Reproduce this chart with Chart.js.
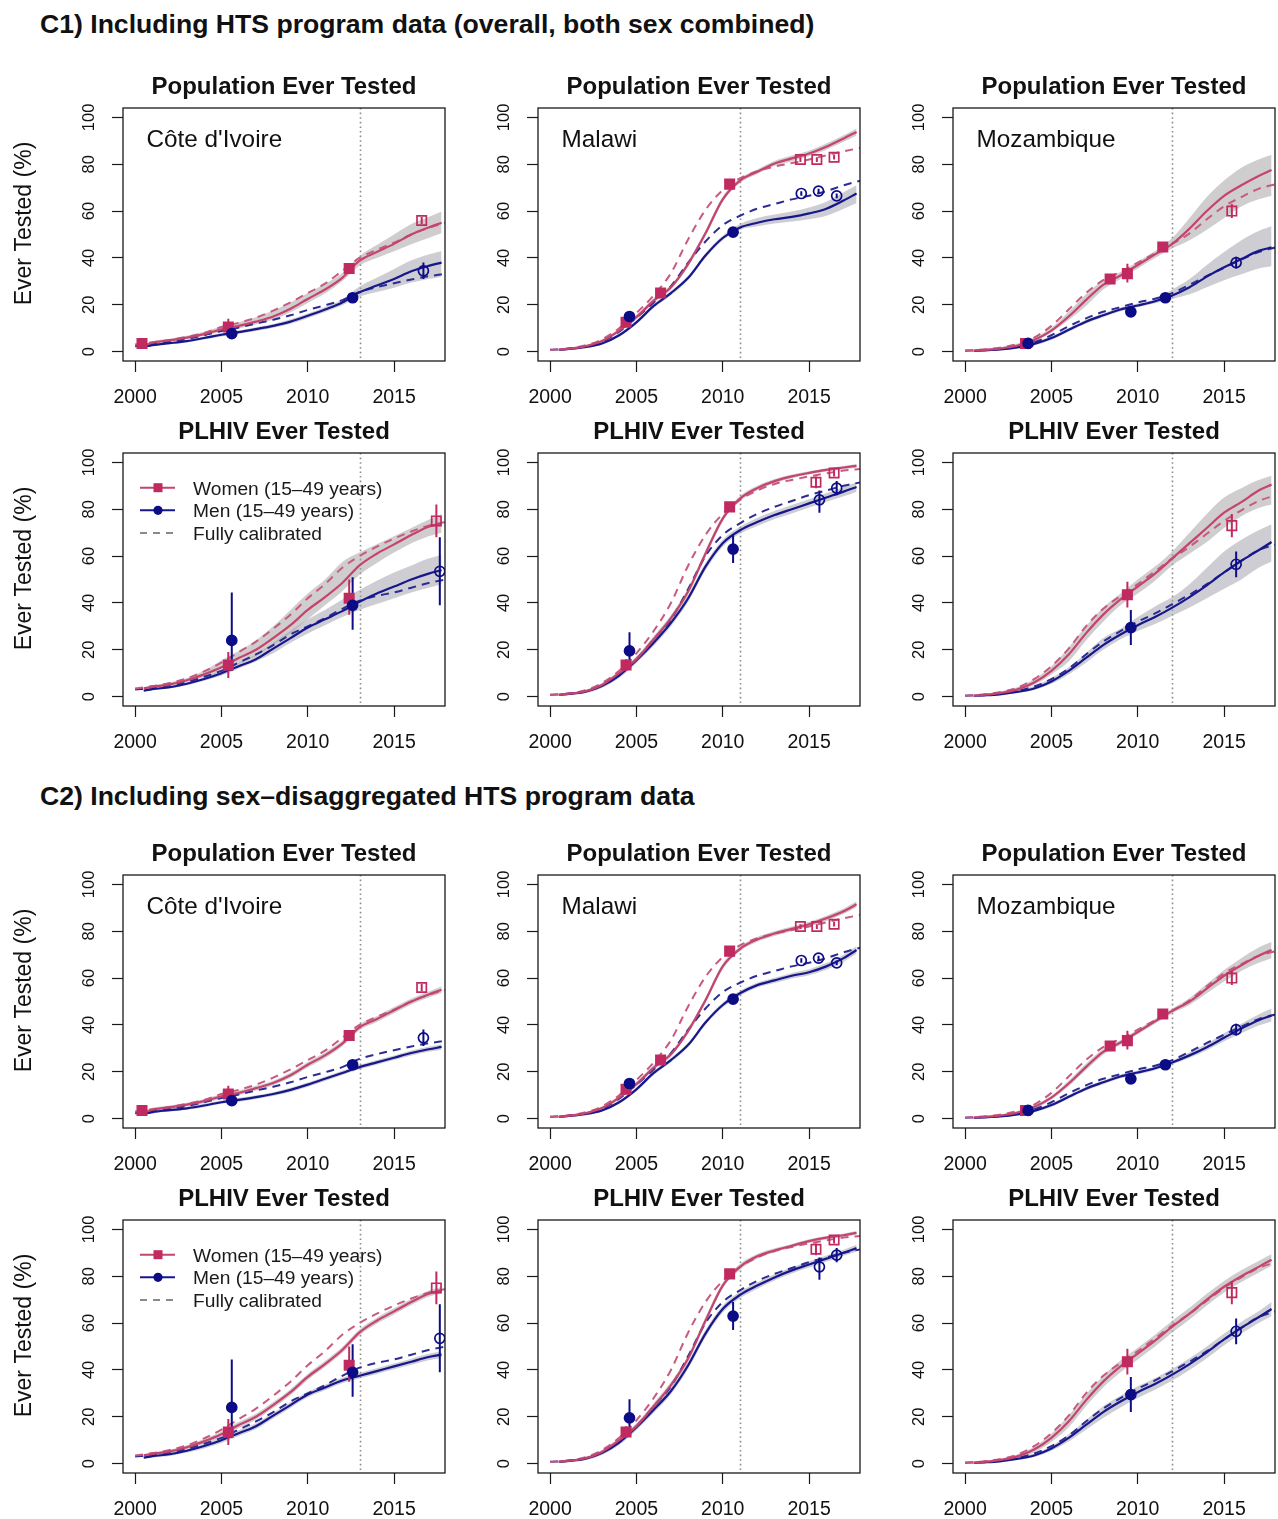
<!DOCTYPE html>
<html><head><meta charset="utf-8">
<script src="https://cdn.jsdelivr.net/npm/chart.js@4.4.1/dist/chart.umd.min.js"></script>
<style>
html,body{margin:0;padding:0;background:#fff}
body{width:1278px;height:1519px;overflow:hidden;position:relative;font-family:"Liberation Sans",Arial,Helvetica,sans-serif}
.main{position:absolute;left:40px;font-weight:bold;font-size:26.6px;line-height:26px;color:#111;white-space:nowrap}
canvas{position:absolute}
</style></head><body>
<div class="main" style="top:11px">C1) Including HTS program data (overall, both sex combined)</div>
<div class="main" style="top:783px">C2) Including sex–disaggregated HTS program data</div>
<script>
// ---------- axes / labels ----------
const X_TICKS = [2000, 2005, 2010, 2015];
const Y_TICKS = [0, 20, 40, 60, 80, 100];
const COUNTRIES = ["Côte d'Ivoire", "Malawi", "Mozambique"];
const VLINES = [2013, 2011, 2012];
const TITLE_POP = "Population Ever Tested";
const TITLE_PLHIV = "PLHIV Ever Tested";
const Y_TITLE = "Ever Tested (%)";
const LEGEND_LABELS = ["Women (15–49 years)", "Men (15–49 years)", "Fully calibrated"];

// ---------- x values ----------
const YEARS_MID = [2001,2002,2003,2004,2005,2006,2007,2008,2009,2010,2011,2012,2013,2014,2015,2016,2017];
const X_SOLID = [2000.5].concat(YEARS_MID, [2017.75]);
const X_FULL = [2000].concat(YEARS_MID, [2018]);

// ---------- fully calibrated (dashed) ----------
const CIV_POP_W_FULL = [3, 4, 5, 6.3, 8, 10.5, 12.3, 14.5, 17.5, 21, 25, 29, 34.5, 40, 43.5, 46.5, 50, 52.8, 55];
const CIV_POP_M_FULL = [2.3, 3.2, 4.2, 5.4, 7, 8.8, 10.3, 12, 13.6, 15.5, 17.8, 19.8, 22, 25.5, 27.5, 29.2, 30.8, 32.2, 33.2];
const MWI_POP_W_FULL = [0.8, 1.3, 2.6, 5.2, 10, 16.5, 24, 33.5, 48, 60.5, 69, 74, 77, 79, 80.5, 82, 83.8, 85.5, 87];
const MWI_POP_M_FULL = [0.8, 1.2, 2.2, 4.2, 8.5, 14.5, 21, 28, 38, 47, 54, 58, 61, 63, 65, 66.5, 68.5, 71, 73];
const MOZ_POP_W_FULL = [0.5, 0.9, 1.7, 3.2, 6, 11, 18, 25, 30.5, 34, 38, 42, 46, 50.5, 56.5, 62, 66, 69.5, 71.5];
const MOZ_POP_M_FULL = [0.4, 0.6, 1.1, 2.2, 4, 7, 10.8, 14.2, 17, 19, 21, 22.6, 25, 28.5, 32.3, 35.8, 39.3, 42.5, 44.5];
const CIV_PLHIV_W_FULL = [3.5, 4.5, 5.8, 7.8, 10.8, 14.5, 19, 23.5, 29, 35, 42, 48, 55, 60, 64, 67.5, 70.5, 73, 74.5];
const CIV_PLHIV_M_FULL = [3, 3.7, 4.7, 6.3, 8.5, 11, 14.5, 18, 22, 26.5, 30, 33.5, 37.5, 41, 43, 44.5, 46.5, 48.5, 50];
const MWI_PLHIV_W_FULL = [0.8, 1.3, 2.6, 5.8, 11, 18.5, 28, 40, 56, 69, 78, 84, 88, 90.8, 92.5, 94, 95.3, 96.5, 97.2];
const MWI_PLHIV_M_FULL = [0.8, 1.2, 2.3, 5, 9.5, 16, 24.5, 33, 46, 60, 69, 74, 78, 81, 83.5, 86, 88, 90, 91.5];
const MOZ_PLHIV_W_FULL = [0.5, 0.9, 1.9, 3.8, 7.5, 13, 20.5, 30, 37.5, 43, 48, 53.5, 59, 64, 69.5, 75, 79.5, 83.5, 86];
const MOZ_PLHIV_M_FULL = [0.4, 0.6, 1.2, 2.4, 4.3, 7.5, 12, 18, 23.5, 28, 32, 35.5, 39.5, 43.5, 48, 53, 58, 62.5, 65];

// ---------- C1 model (solid) ----------
const C1_CIV_POP_W = [2.5, 3.8, 4.8, 6, 7.5, 9.5, 11, 12.8, 15, 18.3, 22.5, 26.5, 31.5, 38.8, 42.5, 46, 50, 53, 55];
const C1_CIV_POP_M = [2, 2.8, 3.6, 4.5, 5.8, 7.2, 8.3, 9.6, 11, 12.8, 15.3, 18, 21, 25.3, 28.2, 31, 34.3, 36.6, 38];
const C1_MWI_POP_W = [0.8, 1.2, 2.2, 4.5, 9, 14.7, 21.8, 27.5, 37.5, 50.5, 65, 73, 76.8, 80.3, 82.5, 84.6, 87.5, 91, 93.8];
const C1_MWI_POP_M = [0.8, 1.1, 1.9, 3.5, 7, 12.5, 19.5, 25, 31.5, 41, 48.5, 53, 55, 56.5, 57.5, 59, 61, 64.5, 67.5];
const C1_MOZ_POP_W = [0.4, 0.7, 1.3, 2.5, 5, 9, 15, 22, 28.5, 32.5, 37, 41.5, 46, 52.5, 60, 66.5, 71, 75, 77.5];
const C1_MOZ_POP_M = [0.3, 0.5, 0.9, 1.8, 3.3, 5.8, 9.3, 12.8, 15.5, 18, 19.7, 21.5, 24, 27.5, 32, 36, 39.5, 43, 44.5];
const C1_CIV_PLHIV_W = [3.5, 4.2, 5.2, 7, 9.5, 12.5, 16.5, 20, 25, 30.5, 37, 42.5, 48.5, 56, 61, 65, 69, 72.5, 74];
const C1_CIV_PLHIV_M = [2.5, 3.2, 4, 5.5, 7.5, 10, 13, 16, 20.5, 25, 29.5, 33, 36.5, 40.5, 44, 47, 50, 52.5, 54];
const C1_MWI_PLHIV_W = [0.8, 1.2, 2.2, 5, 10, 16, 24.5, 33.5, 45, 61, 76, 84.5, 89, 92, 94, 95.5, 96.8, 97.8, 98.5];
const C1_MWI_PLHIV_M = [0.8, 1.1, 2, 4.5, 9, 15.5, 23, 31.5, 42, 55.5, 65.5, 71, 74.5, 77.5, 80, 82.5, 85, 87.5, 89.5];
const C1_MOZ_PLHIV_W = [0.4, 0.7, 1.5, 3, 6, 11, 18, 27, 35, 41.5, 47, 52.5, 59, 65.5, 72, 78.5, 83, 88, 90.5];
const C1_MOZ_PLHIV_M = [0.3, 0.5, 1, 2, 3.5, 6.5, 11, 16.5, 22, 26.5, 30.5, 34, 38, 42.5, 47.5, 53, 58, 62.5, 66];

// ---------- C2 model (solid) ----------
const C2_CIV_POP_W = [2.5, 3.8, 4.8, 6, 7.5, 9.5, 11, 13, 15.2, 18.5, 23, 27, 32, 39, 42.5, 46.3, 50, 53, 55];
const C2_CIV_POP_M = [2, 2.8, 3.6, 4.4, 5.6, 7, 8, 9.2, 10.5, 12.3, 14.5, 17, 19.5, 22, 24, 26, 28, 29.6, 30.6];
const C2_MWI_POP_W = [0.8, 1.2, 2.2, 4.5, 9, 14.7, 21.8, 27.5, 37.5, 50.5, 65, 72.5, 76.5, 79, 81, 83, 85.5, 88.5, 91.5];
const C2_MWI_POP_M = [0.8, 1.1, 1.9, 3.5, 7, 12.5, 19.5, 25, 31.5, 41, 48.5, 53.5, 57, 59, 61, 62.5, 65, 68.5, 72];
const C2_MOZ_POP_W = [0.4, 0.7, 1.3, 2.5, 5, 9, 15, 22, 28.5, 32.5, 37, 41.5, 46, 50, 55.5, 61, 65.5, 69.5, 72];
const C2_MOZ_POP_M = [0.3, 0.5, 0.9, 1.8, 3.3, 5.8, 9.3, 12.8, 15.5, 18, 19.7, 21.5, 24, 27, 30.5, 34.5, 38.5, 42, 44];
const C2_CIV_PLHIV_W = [3.5, 4.2, 5.2, 7, 9.5, 12.5, 16.5, 20, 25, 30.5, 37, 42.5, 48.5, 56, 61, 65, 69, 72.5, 74];
const C2_CIV_PLHIV_M = [2.5, 3.2, 4, 5.5, 7.5, 10, 13, 16, 20.5, 25, 29.5, 32.5, 35.5, 37.5, 39.5, 41.5, 43.5, 45.5, 46.5];
const C2_MWI_PLHIV_W = [0.8, 1.2, 2.2, 5, 10, 16, 24.5, 33.5, 45, 61, 76, 84, 88.5, 91, 93, 95, 96.5, 97.5, 98.5];
const C2_MWI_PLHIV_M = [0.8, 1.1, 2, 4.5, 9, 15.5, 23, 31, 42, 55.5, 66, 72, 76, 79.5, 82.5, 85, 87.5, 90, 92];
const C2_MOZ_PLHIV_W = [0.4, 0.7, 1.5, 3, 6, 11, 18, 27, 35, 41.5, 47, 52.5, 58.5, 64, 70, 75.5, 80, 84, 87];
const C2_MOZ_PLHIV_M = [0.3, 0.5, 1, 2, 3.5, 6.5, 11, 16.5, 22, 26.5, 30.5, 34, 38, 42.5, 47.5, 53, 58, 62.5, 66];

// ---------- C1 uncertainty bands ----------
const C1_CIV_POP_W_LO = [2, 3.2, 4.2, 5.3, 6.8, 8.5, 9.9, 11.6, 13.7, 16.8, 20.8, 24.8, 30, 36.8, 40, 42.8, 45.8, 48.5, 50.5];
const C1_CIV_POP_W_HI = [3, 4.4, 5.5, 6.8, 8.5, 10.7, 12.5, 14.7, 17.6, 21, 25, 29, 33.5, 40.8, 45.5, 50, 54.5, 57.5, 59.8];
const C1_CIV_POP_M_LO = [1.6, 2.3, 3.1, 4, 5.2, 6.5, 7.6, 8.8, 10.2, 11.9, 14.3, 16.9, 19.8, 23.5, 25.5, 27.3, 29.5, 31, 32];
const C1_CIV_POP_M_HI = [2.4, 3.3, 4.1, 5, 6.4, 7.9, 9, 10.4, 11.8, 13.8, 16.3, 19.1, 22.3, 27.8, 31.5, 35.3, 39, 41.5, 43];
const C1_MWI_POP_W_LO = [0.5, 0.8, 1.7, 3.8, 8.2, 13.8, 20.8, 26.5, 36.3, 49.3, 63.8, 72, 75.8, 79.2, 81.3, 83.4, 86.2, 89.6, 92.3];
const C1_MWI_POP_W_HI = [1.1, 1.6, 2.7, 5.2, 9.8, 15.6, 22.8, 28.5, 38.7, 51.7, 66.2, 74, 77.8, 81.4, 83.7, 85.8, 88.8, 92.4, 95.3];
const C1_MWI_POP_M_LO = [0.5, 0.7, 1.4, 2.9, 6.3, 11.7, 18.6, 24.1, 30.6, 40, 47.5, 52, 53.5, 54.7, 55.5, 56.5, 58, 61, 63.5];
const C1_MWI_POP_M_HI = [1.1, 1.5, 2.4, 4.1, 7.7, 13.3, 20.4, 25.9, 32.4, 42, 49.5, 54.5, 57, 58.5, 59.8, 61.5, 64, 68, 71];
const C1_MOZ_POP_W_LO = [0.1, 0.3, 0.8, 1.8, 4.2, 8.2, 13.5, 19.5, 26.5, 31, 35.5, 40, 44, 47.5, 52, 57, 62, 65, 66.5];
const C1_MOZ_POP_W_HI = [0.7, 1.1, 1.9, 3.4, 6, 10.2, 17, 24.5, 30.5, 34, 38.5, 43, 48.5, 57, 66, 73, 78.5, 82, 84];
const C1_MOZ_POP_M_LO = [0.1, 0.2, 0.5, 1.2, 2.6, 5, 8.5, 12, 14.7, 17.2, 18.9, 20.7, 22.5, 24.5, 27.5, 30.5, 33, 35.5, 36.5];
const C1_MOZ_POP_M_HI = [0.5, 0.8, 1.3, 2.4, 4, 6.6, 10.1, 13.6, 16.3, 18.8, 20.5, 22.5, 26.5, 31, 37, 42.5, 47.5, 51.5, 53.5];
const C1_CIV_PLHIV_W_LO = [3, 3.7, 4.6, 6.2, 8.4, 10.5, 14, 17.5, 22, 27, 33, 39, 45, 52, 57, 61.5, 65.5, 68.5, 70];
const C1_CIV_PLHIV_W_HI = [4, 4.8, 6, 8, 11, 15.5, 19.5, 24, 30, 37, 44, 50, 57.5, 61.5, 65, 68.5, 72, 75.5, 78];
const C1_CIV_PLHIV_M_LO = [2.1, 2.8, 3.5, 4.9, 6.8, 9, 12, 15, 18.5, 23, 27, 30.5, 34, 37, 39.5, 42, 44.5, 46.5, 48];
const C1_CIV_PLHIV_M_HI = [2.9, 3.6, 4.5, 6.1, 8.3, 11, 14.5, 18, 23, 28, 33, 37, 41.5, 45.5, 49.5, 53, 56, 59, 60.5];
const C1_MWI_PLHIV_W_LO = [0.5, 0.8, 1.6, 4.2, 9, 14.8, 23.2, 32.2, 43.6, 59.5, 74.8, 83.4, 88, 91.1, 93.2, 94.8, 96.1, 97.1, 97.7];
const C1_MWI_PLHIV_W_HI = [1.1, 1.6, 2.8, 5.8, 11, 17.2, 25.8, 34.8, 46.4, 62.5, 77.2, 85.6, 90, 92.9, 94.8, 96.2, 97.5, 98.5, 99.3];
const C1_MWI_PLHIV_M_LO = [0.5, 0.7, 1.4, 3.7, 8, 14.3, 21.6, 30, 40.5, 54, 64, 69.5, 72.8, 75.8, 78.2, 80.7, 83.2, 85.5, 87.5];
const C1_MWI_PLHIV_M_HI = [1.1, 1.5, 2.6, 5.3, 10, 16.7, 24.4, 33, 43.5, 57, 67, 72.5, 76.2, 79.2, 81.8, 84.3, 86.8, 89.5, 91.5];
const C1_MOZ_PLHIV_W_LO = [0.2, 0.4, 1, 2.2, 5, 9.5, 15, 24, 32, 39, 44, 49.5, 56, 61, 66, 72, 77, 80.5, 82];
const C1_MOZ_PLHIV_W_HI = [0.7, 1.1, 2.1, 4, 7.5, 13, 21, 30, 38, 44, 50, 55.5, 62, 70, 78, 85, 89, 92.5, 94.3];
const C1_MOZ_PLHIV_M_LO = [0.1, 0.3, 0.7, 1.5, 2.8, 5.5, 9.5, 14.5, 20, 24.5, 28, 31, 34.5, 38, 42, 46, 50, 55, 57.7];
const C1_MOZ_PLHIV_M_HI = [0.5, 0.8, 1.4, 2.6, 4.5, 8, 12.5, 18.5, 25, 29, 34, 38.5, 42.5, 48, 55, 62, 67, 71, 73.6];

// ---------- C2 uncertainty bands ----------
const C2_CIV_POP_W_LO = [1.8, 3, 4, 5.2, 6.6, 8.5, 10, 12, 14.2, 17.4, 21.8, 25.8, 30.8, 37.8, 41.3, 45, 48.7, 51.7, 53.6];
const C2_CIV_POP_W_HI = [3.2, 4.6, 5.6, 6.8, 8.4, 10.5, 12, 14, 16.2, 19.6, 24.2, 28.2, 33.2, 40.2, 43.7, 47.6, 51.3, 54.3, 56.4];
const C2_CIV_POP_M_LO = [1.5, 2.2, 3, 3.8, 4.9, 6.3, 7.2, 8.4, 9.7, 11.4, 13.6, 16.1, 18.6, 21.1, 23, 25, 26.9, 28.5, 29.4];
const C2_CIV_POP_M_HI = [2.5, 3.4, 4.2, 5, 6.3, 7.7, 8.8, 10, 11.3, 13.2, 15.4, 17.9, 20.4, 22.9, 25, 27, 29.1, 30.7, 31.8];
const C2_MWI_POP_W_LO = [0.5, 0.8, 1.7, 3.8, 8.2, 13.8, 20.8, 26.5, 36.3, 49.3, 63.8, 71.5, 75.5, 78, 80, 82, 84.4, 87.3, 90.2];
const C2_MWI_POP_W_HI = [1.1, 1.6, 2.7, 5.2, 9.8, 15.6, 22.8, 28.5, 38.7, 51.7, 66.2, 73.5, 77.5, 80, 82, 84, 86.6, 89.7, 92.8];
const C2_MWI_POP_M_LO = [0.5, 0.7, 1.4, 2.9, 6.3, 11.7, 18.6, 24.1, 30.6, 40, 47.5, 52.5, 56, 57.9, 59.8, 61.2, 63.6, 67, 70.4];
const C2_MWI_POP_M_HI = [1.1, 1.5, 2.4, 4.1, 7.7, 13.3, 20.4, 25.9, 32.4, 42, 49.5, 54.5, 58, 60.1, 62.2, 63.8, 66.4, 70, 73.6];
const C2_MOZ_POP_W_LO = [0.1, 0.3, 0.8, 1.8, 4.2, 8.2, 13.8, 20.6, 27.3, 31.5, 36, 40.5, 45, 48.5, 53.5, 58.5, 63, 66.5, 68.5];
const C2_MOZ_POP_W_HI = [0.7, 1.1, 1.8, 3.2, 5.8, 9.8, 16.2, 23.4, 29.7, 33.5, 38, 42.5, 47, 51.5, 57.5, 63.5, 68.5, 73, 75.5];
const C2_MOZ_POP_M_LO = [0.1, 0.2, 0.5, 1.2, 2.6, 5, 8.5, 12, 14.7, 17.2, 18.9, 20.7, 23.2, 26, 29.2, 33, 36.5, 39.8, 41.5];
const C2_MOZ_POP_M_HI = [0.5, 0.8, 1.3, 2.4, 4, 6.6, 10.1, 13.6, 16.3, 18.8, 20.5, 22.3, 24.8, 28.3, 32, 36.5, 40.5, 44.5, 47];
const C2_CIV_PLHIV_W_LO = [3, 3.6, 4.5, 6.2, 8.5, 11.3, 15.2, 18.7, 23.7, 29.2, 35.7, 41.2, 47.2, 54.7, 59.7, 63.7, 67.7, 71.2, 72.5];
const C2_CIV_PLHIV_W_HI = [4, 4.8, 5.9, 7.8, 10.5, 13.7, 17.8, 21.3, 26.3, 31.8, 38.3, 43.8, 49.8, 57.3, 62.3, 66.3, 70.3, 73.8, 75.5];
const C2_CIV_PLHIV_M_LO = [2, 2.6, 3.3, 4.7, 6.5, 8.8, 11.8, 14.8, 19.3, 23.8, 28.3, 31.3, 34.3, 36.3, 38.3, 40.3, 42.2, 44.1, 45.1];
const C2_CIV_PLHIV_M_HI = [3, 3.8, 4.7, 6.3, 8.5, 11.2, 14.2, 17.2, 21.7, 26.2, 30.7, 33.7, 36.7, 38.7, 40.7, 42.7, 44.8, 46.9, 47.9];
const C2_MWI_PLHIV_W_LO = [0.5, 0.8, 1.6, 4.2, 9, 14.8, 23.2, 32.2, 43.6, 59.5, 74.8, 82.8, 87.5, 90.1, 92.2, 94.2, 95.8, 96.8, 97.7];
const C2_MWI_PLHIV_W_HI = [1.1, 1.6, 2.8, 5.8, 11, 17.2, 25.8, 34.8, 46.4, 62.5, 77.2, 85.2, 89.5, 91.9, 93.8, 95.8, 97.2, 98.2, 99.3];
const C2_MWI_PLHIV_M_LO = [0.5, 0.7, 1.4, 3.7, 8, 14.3, 21.6, 29.6, 40.5, 54, 64.5, 70.6, 74.7, 78.2, 81.2, 83.7, 86.2, 88.7, 90.6];
const C2_MWI_PLHIV_M_HI = [1.1, 1.5, 2.6, 5.3, 10, 16.7, 24.4, 32.4, 43.5, 57, 67.5, 73.4, 77.3, 80.8, 83.8, 86.3, 88.8, 91.3, 93.4];
const C2_MOZ_PLHIV_W_LO = [0.2, 0.4, 1, 2.2, 4.8, 9.2, 15.5, 24.5, 32.5, 39, 44.5, 50, 56, 61.5, 67.5, 73, 77.5, 81.5, 84.5];
const C2_MOZ_PLHIV_W_HI = [0.7, 1.1, 2.1, 3.9, 7.2, 12.8, 20.5, 29.5, 37.5, 44, 49.5, 55, 61, 66.5, 72.5, 78, 82.5, 86.5, 89.5];
const C2_MOZ_PLHIV_M_LO = [0.1, 0.3, 0.7, 1.5, 2.8, 5.5, 9.5, 14.5, 19.5, 24, 28, 31.5, 35.5, 40, 45, 50.5, 55.5, 60, 63];
const C2_MOZ_PLHIV_M_HI = [0.5, 0.8, 1.4, 2.6, 4.3, 7.5, 12.5, 18.5, 24.5, 29, 33, 36.5, 40.5, 45, 50, 55.5, 60.5, 65, 69];

// ---------- survey / program data: [year, value, lower, upper, filled(1)/open(0)] ----------
const CIV_POP_W_SURVEY = [[2000.4, 3.5, 3, 4, 1], [2005.4, 10.5, 8, 14, 1], [2012.4, 35.5, 33.5, 37.5, 1], [2016.6, 56, 54.5, 57.5, 0]];
const CIV_POP_M_SURVEY = [[2005.6, 7.7, 6.5, 9, 1], [2012.6, 23, 21, 25, 1], [2016.7, 34.5, 31, 38, 0]];
const MWI_POP_W_SURVEY = [[2004.4, 12.5, 11, 14, 1], [2006.4, 25, 24, 26, 1], [2010.4, 71.5, 70.5, 72.5, 1], [2014.5, 82, 81, 83, 0], [2015.45, 82, 81, 83, 0], [2016.45, 83, 82, 84, 0]];
const MWI_POP_M_SURVEY = [[2004.6, 15, 14, 16, 1], [2010.6, 51, 50, 52, 1], [2014.55, 67.5, 66.5, 68.5, 0], [2015.55, 68.5, 67.5, 69.5, 0], [2016.6, 66.5, 65.5, 67.5, 0]];
const MOZ_POP_W_SURVEY = [[2003.5, 3.5, 2.5, 4.5, 1], [2008.4, 31, 29.5, 32.5, 1], [2009.4, 33.3, 29.5, 37.5, 1], [2011.45, 44.7, 43, 46.5, 1], [2015.45, 60, 57, 63, 0]];
const MOZ_POP_M_SURVEY = [[2003.65, 3.5, 2.5, 4.5, 1], [2009.6, 17, 15, 19, 1], [2011.6, 23, 21.5, 24.5, 1], [2015.7, 38, 35.5, 40.5, 0]];
const CIV_PLHIV_W_SURVEY = [[2005.4, 13.5, 8, 19, 1], [2012.4, 42, 35, 50, 1], [2017.45, 75, 68, 82, 0]];
const CIV_PLHIV_M_SURVEY = [[2005.6, 24, 11, 44.5, 1], [2012.6, 39, 28.5, 51, 1], [2017.65, 53.5, 39, 68, 0]];
const MWI_PLHIV_W_SURVEY = [[2004.4, 13.5, 11, 16, 1], [2010.4, 81, 79, 83, 1], [2015.4, 91.5, 89, 94, 0], [2016.45, 95.5, 94, 97, 0]];
const MWI_PLHIV_M_SURVEY = [[2004.6, 19.5, 15, 27.5, 1], [2010.6, 63, 57, 69, 1], [2015.6, 84, 78.5, 88, 0], [2016.6, 89, 86, 92, 0]];
const MOZ_PLHIV_W_SURVEY = [[2009.4, 43.5, 38, 49, 1], [2015.45, 73, 68, 78, 0]];
const MOZ_PLHIV_M_SURVEY = [[2009.6, 29.5, 22, 37, 1], [2015.7, 56.5, 51, 62, 0]];

// ---------- styling / layout ----------
const FONT = '"Liberation Sans", Arial, Helvetica, sans-serif';
const W_LINE = '#c4446e', W_DASH = '#c85a82', W_MARK = '#c02a60';
const M_LINE = '#17178c', M_DASH = '#2c2c94', M_MARK = '#0c0c86';
const W_BAND = 'rgba(160,155,158,0.5)', M_BAND = 'rgba(155,155,168,0.5)';
const COL_LEFTS = [123, 538, 953];
const ROW_TOPS = [108, 453, 875, 1220];
const BOX_W = 322, BOX_H = 253, PAD_TOP = 50, AXIS_H = 48, YAXIS_W = 123;

const PANELS = [
  [0,0,TITLE_POP,0,C1_CIV_POP_W,C1_CIV_POP_M,CIV_POP_W_FULL,CIV_POP_M_FULL,C1_CIV_POP_W_LO,C1_CIV_POP_W_HI,C1_CIV_POP_M_LO,C1_CIV_POP_M_HI,CIV_POP_W_SURVEY,CIV_POP_M_SURVEY],
  [1,0,TITLE_POP,1,C1_MWI_POP_W,C1_MWI_POP_M,MWI_POP_W_FULL,MWI_POP_M_FULL,C1_MWI_POP_W_LO,C1_MWI_POP_W_HI,C1_MWI_POP_M_LO,C1_MWI_POP_M_HI,MWI_POP_W_SURVEY,MWI_POP_M_SURVEY],
  [2,0,TITLE_POP,2,C1_MOZ_POP_W,C1_MOZ_POP_M,MOZ_POP_W_FULL,MOZ_POP_M_FULL,C1_MOZ_POP_W_LO,C1_MOZ_POP_W_HI,C1_MOZ_POP_M_LO,C1_MOZ_POP_M_HI,MOZ_POP_W_SURVEY,MOZ_POP_M_SURVEY],
  [0,1,TITLE_PLHIV,0,C1_CIV_PLHIV_W,C1_CIV_PLHIV_M,CIV_PLHIV_W_FULL,CIV_PLHIV_M_FULL,C1_CIV_PLHIV_W_LO,C1_CIV_PLHIV_W_HI,C1_CIV_PLHIV_M_LO,C1_CIV_PLHIV_M_HI,CIV_PLHIV_W_SURVEY,CIV_PLHIV_M_SURVEY],
  [1,1,TITLE_PLHIV,1,C1_MWI_PLHIV_W,C1_MWI_PLHIV_M,MWI_PLHIV_W_FULL,MWI_PLHIV_M_FULL,C1_MWI_PLHIV_W_LO,C1_MWI_PLHIV_W_HI,C1_MWI_PLHIV_M_LO,C1_MWI_PLHIV_M_HI,MWI_PLHIV_W_SURVEY,MWI_PLHIV_M_SURVEY],
  [2,1,TITLE_PLHIV,2,C1_MOZ_PLHIV_W,C1_MOZ_PLHIV_M,MOZ_PLHIV_W_FULL,MOZ_PLHIV_M_FULL,C1_MOZ_PLHIV_W_LO,C1_MOZ_PLHIV_W_HI,C1_MOZ_PLHIV_M_LO,C1_MOZ_PLHIV_M_HI,MOZ_PLHIV_W_SURVEY,MOZ_PLHIV_M_SURVEY],
  [0,2,TITLE_POP,0,C2_CIV_POP_W,C2_CIV_POP_M,CIV_POP_W_FULL,CIV_POP_M_FULL,C2_CIV_POP_W_LO,C2_CIV_POP_W_HI,C2_CIV_POP_M_LO,C2_CIV_POP_M_HI,CIV_POP_W_SURVEY,CIV_POP_M_SURVEY],
  [1,2,TITLE_POP,1,C2_MWI_POP_W,C2_MWI_POP_M,MWI_POP_W_FULL,MWI_POP_M_FULL,C2_MWI_POP_W_LO,C2_MWI_POP_W_HI,C2_MWI_POP_M_LO,C2_MWI_POP_M_HI,MWI_POP_W_SURVEY,MWI_POP_M_SURVEY],
  [2,2,TITLE_POP,2,C2_MOZ_POP_W,C2_MOZ_POP_M,MOZ_POP_W_FULL,MOZ_POP_M_FULL,C2_MOZ_POP_W_LO,C2_MOZ_POP_W_HI,C2_MOZ_POP_M_LO,C2_MOZ_POP_M_HI,MOZ_POP_W_SURVEY,MOZ_POP_M_SURVEY],
  [0,3,TITLE_PLHIV,0,C2_CIV_PLHIV_W,C2_CIV_PLHIV_M,CIV_PLHIV_W_FULL,CIV_PLHIV_M_FULL,C2_CIV_PLHIV_W_LO,C2_CIV_PLHIV_W_HI,C2_CIV_PLHIV_M_LO,C2_CIV_PLHIV_M_HI,CIV_PLHIV_W_SURVEY,CIV_PLHIV_M_SURVEY],
  [1,3,TITLE_PLHIV,1,C2_MWI_PLHIV_W,C2_MWI_PLHIV_M,MWI_PLHIV_W_FULL,MWI_PLHIV_M_FULL,C2_MWI_PLHIV_W_LO,C2_MWI_PLHIV_W_HI,C2_MWI_PLHIV_M_LO,C2_MWI_PLHIV_M_HI,MWI_PLHIV_W_SURVEY,MWI_PLHIV_M_SURVEY],
  [2,3,TITLE_PLHIV,2,C2_MOZ_PLHIV_W,C2_MOZ_PLHIV_M,MOZ_PLHIV_W_FULL,MOZ_PLHIV_M_FULL,C2_MOZ_PLHIV_W_LO,C2_MOZ_PLHIV_W_HI,C2_MOZ_PLHIV_M_LO,C2_MOZ_PLHIV_M_HI,MOZ_PLHIV_W_SURVEY,MOZ_PLHIV_M_SURVEY]
];

function xy(xs, ys) { return ys.map((v, i) => ({x: xs[i], y: v})); }
function errSegs(s) { const d = []; s.forEach(p => { d.push({x: p[0], y: p[2]}, {x: p[0], y: p[3]}, {x: p[0], y: null}); }); return d; }
function pts(s) { return s.map(p => ({x: p[0], y: p[1]})); }

const deco = {
  id: 'deco',
  beforeDatasetsDraw(chart, args, o) {
    const {ctx, chartArea: a} = chart;
    const px = Math.round(chart.scales.x.getPixelForValue(o.vline)) + 0.5;
    ctx.save();
    ctx.strokeStyle = '#8c8c8c'; ctx.lineWidth = 1.6; ctx.setLineDash([1.6, 3]);
    ctx.beginPath(); ctx.moveTo(px, a.top); ctx.lineTo(px, a.bottom); ctx.stroke();
    ctx.restore();
  },
  afterDraw(chart, args, o) {
    const {ctx, chartArea: a} = chart;
    const ys = chart.scales.y;
    ctx.save();
    ctx.strokeStyle = '#1a1a1a'; ctx.lineWidth = 1.3;
    ctx.strokeRect(a.left, a.top, a.right - a.left, a.bottom - a.top);
    ctx.fillStyle = '#111';
    ctx.font = 'bold 24px ' + FONT; ctx.textAlign = 'center'; ctx.textBaseline = 'alphabetic';
    ctx.fillText(o.title, (a.left + a.right) / 2, a.top - 14.5);
    ctx.font = '16.5px ' + FONT; ctx.textBaseline = 'middle';
    Y_TICKS.forEach(v => {
      ctx.save(); ctx.translate(a.left - 34, ys.getPixelForValue(v)); ctx.rotate(-Math.PI / 2);
      ctx.fillText(String(v), 0, 0); ctx.restore();
    });
    if (o.yTitle) {
      ctx.save(); ctx.font = '23px ' + FONT; ctx.translate(25, (a.top + a.bottom) / 2 - 11); ctx.rotate(-Math.PI / 2);
      ctx.fillText(Y_TITLE, 0, 0); ctx.restore();
    }
    if (o.country) {
      ctx.font = '24.3px ' + FONT; ctx.textAlign = 'left'; ctx.textBaseline = 'alphabetic';
      ctx.fillText(o.country, a.left + 23.5, a.top + 39);
    }
    if (o.legend) {
      const styles = [[W_LINE, W_MARK, 'rect', []], [M_LINE, M_MARK, 'circle', []], ['#8a8a8a', null, null, [7, 6]]];
      styles.forEach((s, i) => {
        const yy = a.top + 34.7 + i * 22.6;
        ctx.save();
        ctx.strokeStyle = s[0]; ctx.lineWidth = 2; ctx.setLineDash(s[3]);
        ctx.beginPath(); ctx.moveTo(a.left + 17, yy); ctx.lineTo(a.left + 52, yy); ctx.stroke();
        ctx.setLineDash([]);
        if (s[2] === 'rect') { ctx.fillStyle = s[1]; ctx.fillRect(a.left + 35 - 4.5, yy - 4.5, 9, 9); }
        if (s[2] === 'circle') { ctx.fillStyle = s[1]; ctx.beginPath(); ctx.arc(a.left + 35, yy, 4.6, 0, Math.PI * 2); ctx.fill(); }
        ctx.fillStyle = '#1a1a1a'; ctx.font = '19.2px ' + FONT; ctx.textAlign = 'left'; ctx.textBaseline = 'alphabetic';
        ctx.fillText(LEGEND_LABELS[i], a.left + 70, yy + 6.8);
        ctx.restore();
      });
    }
    ctx.restore();
  }
};

const lineBase = {pointRadius: 0, pointHoverRadius: 0, cubicInterpolationMode: 'monotone', fill: false};

PANELS.forEach(p => {
  const [col, row, title, ci, wS, mS, wF, mF, wLo, wHi, mLo, mHi, wSv, mSv] = p;
  const cv = document.createElement('canvas');
  const W = YAXIS_W + BOX_W + 3, H = PAD_TOP + BOX_H + AXIS_H;
  cv.width = W; cv.height = H;
  cv.style.left = (COL_LEFTS[col] - YAXIS_W) + 'px';
  cv.style.top = (ROW_TOPS[row] - PAD_TOP) + 'px';
  cv.style.width = W + 'px'; cv.style.height = H + 'px';
  document.body.appendChild(cv);
  const datasets = [
    Object.assign({}, lineBase, {data: xy(X_SOLID, wLo), borderWidth: 0, order: 6}),
    Object.assign({}, lineBase, {data: xy(X_SOLID, wHi), borderWidth: 0, fill: '-1', backgroundColor: W_BAND, order: 6}),
    Object.assign({}, lineBase, {data: xy(X_SOLID, mLo), borderWidth: 0, order: 5}),
    Object.assign({}, lineBase, {data: xy(X_SOLID, mHi), borderWidth: 0, fill: '-1', backgroundColor: M_BAND, order: 5}),
    Object.assign({}, lineBase, {data: xy(X_FULL, wF), borderColor: W_DASH, borderWidth: 2, borderDash: [8, 6], order: 4}),
    Object.assign({}, lineBase, {data: xy(X_FULL, mF), borderColor: M_DASH, borderWidth: 2, borderDash: [8, 6], order: 4}),
    Object.assign({}, lineBase, {data: xy(X_SOLID, wS), borderColor: W_LINE, borderWidth: 2.2, order: 3}),
    Object.assign({}, lineBase, {data: xy(X_SOLID, mS), borderColor: M_LINE, borderWidth: 2.2, order: 3}),
    {data: errSegs(wSv), borderColor: W_MARK, borderWidth: 2, pointRadius: 0, tension: 0, spanGaps: false, order: 2},
    {data: errSegs(mSv), borderColor: M_MARK, borderWidth: 2, pointRadius: 0, tension: 0, spanGaps: false, order: 2},
    {data: pts(wSv), showLine: false, pointStyle: 'rect', pointRadius: 6.6, borderWidth: 1.7,
     pointBorderColor: W_MARK, pointBackgroundColor: wSv.map(s => s[4] ? W_MARK : 'rgba(255,255,255,0)'), order: 1},
    {data: pts(mSv), showLine: false, pointStyle: 'circle', pointRadius: 5, borderWidth: 1.7,
     pointBorderColor: M_MARK, pointBackgroundColor: mSv.map(s => s[4] ? M_MARK : 'rgba(255,255,255,0)'), order: 0}
  ];
  new Chart(cv, {
    type: 'line',
    data: {datasets},
    plugins: [deco],
    options: {
      responsive: false, animation: false, events: [],
      layout: {padding: {left: 0, right: 3, top: PAD_TOP, bottom: 0}, autoPadding: false},
      plugins: {
        legend: {display: false}, tooltip: {enabled: false}, title: {display: false},
        deco: {title: title, country: (row === 0 || row === 2) ? COUNTRIES[ci] : '', yTitle: col === 0,
               legend: col === 0 && (row === 1 || row === 3), vline: VLINES[ci]}
      },
      scales: {
        x: {type: 'linear', min: 1999.3, max: 2017.95,
            afterBuildTicks: s => { s.ticks = X_TICKS.map(v => ({value: v})); },
            afterFit: s => { s.height = AXIS_H; },
            grid: {display: true, drawOnChartArea: false, drawTicks: true, tickLength: 11, tickColor: '#1a1a1a', tickWidth: 1.2},
            border: {display: false},
            ticks: {font: {size: 19.5, family: FONT}, color: '#111', padding: 14, maxRotation: 0, minRotation: 0, autoSkip: false, callback: v => String(v)}},
        y: {type: 'linear', min: -4, max: 104,
            afterBuildTicks: s => { s.ticks = Y_TICKS.map(v => ({value: v})); },
            afterFit: s => { s.width = YAXIS_W; },
            grid: {display: true, drawOnChartArea: false, drawTicks: true, tickLength: 11, tickColor: '#1a1a1a', tickWidth: 1.2},
            border: {display: false},
            ticks: {display: false}}
      }
    }
  });
});
</script>
</body></html>
